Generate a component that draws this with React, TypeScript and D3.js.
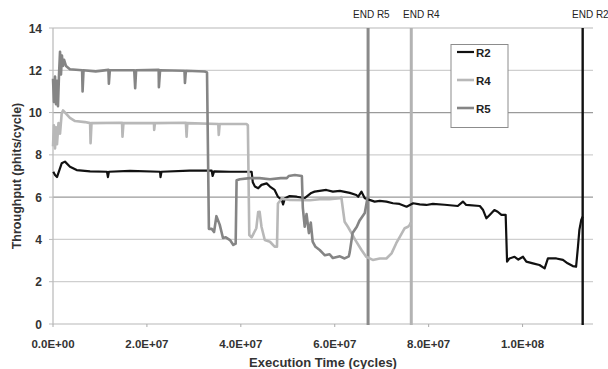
import React from "react";
import * as d3 from "d3";

// x values in millions of cycles, y in phits/cycle
const r2: [number, number][] = [
  [0.06, 7.2], [0.43, 7.05], [0.85, 6.95], [1.85, 7.6], [2.55, 7.68], [3.62, 7.44], [5.04, 7.28],
  [7.9, 7.22], [11.5, 7.2], [11.7, 6.95], [11.9, 7.2], [16.4, 7.24], [22.8, 7.2], [22.9, 6.95],
  [23.1, 7.2], [29.1, 7.25], [33.8, 7.25], [34.0, 7.0], [34.3, 7.22], [37.7, 7.2], [42.3, 7.2],
  [42.55, 6.7], [43.0, 6.5], [43.7, 6.42], [44.4, 6.58], [45.5, 6.65], [46.2, 6.5], [47.2, 6.34],
  [47.9, 6.02], [48.7, 5.87], [49.0, 5.65], [49.4, 5.95], [50.4, 6.05], [51.9, 6.02], [53.6, 5.95],
  [55.0, 6.2], [55.7, 6.26], [58.2, 6.34], [59.6, 6.26], [61.1, 6.3], [63.2, 6.2], [64.6, 6.1],
  [65.0, 6.02], [65.7, 6.26], [66.4, 5.95], [67.4, 5.87], [68.5, 5.79], [69.6, 5.82], [71.0, 5.79],
  [72.4, 5.71], [73.8, 5.68], [75.3, 5.55], [76.7, 5.71], [78.1, 5.66], [79.5, 5.63], [80.9, 5.68],
  [83.4, 5.64], [86.2, 5.58], [87.3, 5.79], [88.0, 5.63], [90.9, 5.58], [91.6, 5.39], [92.3, 5.0],
  [93.0, 5.16], [94.0, 5.39], [94.7, 5.31], [95.5, 5.16], [96.4, 5.16], [96.7, 2.95], [97.2, 3.1],
  [98.3, 3.18], [99.1, 3.05], [100.1, 3.18], [100.8, 2.95], [102.2, 2.87], [103.6, 2.79],
  [104.7, 2.63], [105.4, 3.1], [107.2, 3.1], [108.6, 3.03], [109.6, 2.87], [110.7, 2.74],
  [111.4, 2.71], [111.8, 3.66], [112.1, 4.45], [112.5, 4.92], [112.8, 5.08],
];

const r4: [number, number][] = [
  [0.0, 8.4], [0.2, 9.4], [0.43, 8.3], [0.64, 9.3], [0.85, 8.5], [1.17, 9.5], [1.5, 9.0],
  [1.85, 9.96], [2.13, 10.1], [2.77, 9.95], [3.6, 9.75], [4.7, 9.6], [6.8, 9.55], [7.9, 9.5],
  [8.0, 8.55], [8.2, 9.5], [14.7, 9.52], [14.8, 8.86], [15.0, 9.5], [21.5, 9.5], [21.55, 9.18],
  [21.7, 9.5], [28.3, 9.52], [28.45, 8.86], [28.6, 9.5], [35.2, 9.46], [35.3, 8.94], [35.5, 9.46],
  [41.2, 9.46], [41.5, 9.4], [41.8, 4.21], [42.3, 4.1], [43.3, 4.53], [43.7, 5.3], [44.0, 5.31],
  [44.4, 4.6], [45.1, 3.97], [46.2, 3.89], [47.2, 3.66], [47.7, 3.66], [47.9, 5.7], [48.7, 5.92],
  [50.4, 5.87], [54.7, 5.85], [56.8, 5.9], [58.9, 5.9], [61.1, 5.95], [61.4, 6.0], [61.7, 5.5],
  [62.1, 4.84], [62.8, 4.6], [63.6, 4.29], [64.3, 4.0], [65.7, 3.5], [66.7, 3.18], [68.1, 3.03],
  [69.6, 3.1], [71.0, 3.1], [72.1, 3.34], [73.1, 3.82], [73.8, 4.1], [74.9, 4.53], [75.6, 4.6],
  [76.0, 4.7], [76.2, 4.8],
];

const r5: [number, number][] = [
  [0.0, 11.6], [0.2, 10.5], [0.43, 11.7], [0.64, 10.4], [0.85, 11.5], [1.06, 10.3], [1.28, 11.8],
  [1.5, 12.88], [1.7, 11.8], [1.9, 12.7], [2.1, 12.2], [2.35, 12.5], [2.77, 12.2], [3.6, 12.05],
  [6.2, 12.0], [6.3, 11.0], [6.5, 12.0], [9.1, 11.95], [11.8, 12.02], [11.9, 11.37], [12.1, 12.0],
  [17.3, 12.0], [17.5, 11.15], [17.7, 12.0], [22.5, 12.02], [22.55, 11.2], [22.8, 12.0],
  [28.0, 11.98], [28.1, 11.4], [28.3, 11.98], [32.3, 11.94], [32.8, 11.9], [33.2, 4.5], [33.8, 4.5],
  [34.3, 4.35], [34.8, 5.1], [35.5, 4.7], [36.2, 4.07], [36.8, 4.1], [37.7, 3.97], [38.4, 3.74],
  [38.9, 3.8], [39.1, 6.8], [39.8, 6.85], [41.9, 6.9], [44.0, 6.9], [46.2, 6.85], [48.5, 6.9],
  [49.8, 6.9], [50.2, 7.0], [51.5, 7.05], [53.0, 7.0], [53.2, 5.5], [53.6, 4.6], [54.0, 5.2],
  [54.5, 4.3], [54.9, 4.8], [55.3, 3.9], [55.9, 3.65], [56.8, 3.5], [57.9, 3.25], [58.9, 3.3],
  [59.6, 3.12], [61.1, 3.2], [62.1, 3.1], [63.0, 3.2], [63.2, 3.4], [63.8, 4.3], [64.7, 4.6],
  [65.3, 4.9], [66.4, 5.25], [67.0, 6.0],
];

const seriesNames = ["R2", "R4", "R5"];
const seriesColors = ["#111111", "#b8b8b8", "#858585"];
const seriesWidths = [2.2, 2.6, 2.6];

const endLabels = ["END R5", "END R4", "END R2"];
const endTimes = [67.1, 76.3, 112.8];
const endColors = ["#8a8a8a", "#b3b3b3", "#111111"];
const endLabelX = [353, 403, 572];

const yTicks = [0, 2, 4, 6, 8, 10, 12, 14];
const xTicks = [0, 2e7, 4e7, 6e7, 8e7, 1e8];

const fmtX = (v: number) => {
  const [m, e] = v.toExponential(1).split("e");
  const sign = e[0] === "-" ? "-" : "+";
  const digits = e.replace(/[+-]/, "").padStart(2, "0");
  return `${m}E${sign}${digits}`;
};

export default function App() {
  const left = 53, right = 593, top = 28, bottom = 324;
  const x = d3.scaleLinear().domain([0, 1.15e8]).range([left, right]);
  const y = d3.scaleLinear().domain([0, 14]).range([bottom, top]);
  const line = d3.line<[number, number]>()
    .x(d => x(d[0] * 1e6))
    .y(d => y(d[1]));
  const data = [r2, r4, r5];
  const font = "'Liberation Sans', Arial, sans-serif";

  return (
    <svg width={608} height={369} style={{ position: "absolute", left: 0, top: 0, background: "#fff" }}
      fontFamily={font}>
      {yTicks.map(t => (
        <g key={t}>
          <line x1={left} x2={right} y1={y(t)} y2={y(t)}
            stroke={t === 6 || t === 10 ? "#9a9a9a" : "#cfcfcf"} strokeWidth={1.3} />
          <line x1={left - 4} x2={left} y1={y(t)} y2={y(t)} stroke="#bbb" />
          <text x={42} y={y(t) + 4.5} textAnchor="end" fontSize={12} fontWeight="bold" fill="#333">{t}</text>
        </g>
      ))}
      <line x1={left} x2={left} y1={top} y2={bottom} stroke="#bdbdbd" strokeWidth={1.3} />
      {xTicks.map(t => (
        <g key={t}>
          <line x1={x(t)} x2={x(t)} y1={bottom} y2={bottom + 3} stroke="#aaa" />
          <text x={x(t)} y={348} textAnchor="middle" fontSize={11.5} fontWeight="bold" fill="#333">{fmtX(t)}</text>
        </g>
      ))}
      {endTimes.map((t, i) => (
        <g key={endLabels[i]}>
          <line x1={x(t * 1e6)} x2={x(t * 1e6)} y1={top} y2={bottom + 1}
            stroke={endColors[i]} strokeWidth={i === 2 ? 2.4 : 3} />
          <text x={endLabelX[i]} y={18} fontSize={10} fill="#222">{endLabels[i]}</text>
        </g>
      ))}
      {data.map((d, i) => (
        <path key={seriesNames[i]} d={line(d) || ""} fill="none" stroke={seriesColors[i]}
          strokeWidth={seriesWidths[i]} strokeLinejoin="round" />
      ))}
      <g>
        <rect x={451} y={44.5} width={57} height={83} fill="#fff" stroke="#8c8c8c" strokeWidth={1} />
        {seriesNames.map((n, i) => (
          <g key={n}>
            <line x1={457} x2={474} y1={52 + i * 28} y2={52 + i * 28}
              stroke={seriesColors[i]} strokeWidth={seriesWidths[i]} />
            <text x={476} y={56.5 + i * 28} fontSize={11.5} fontWeight="bold" fill="#222">{n}</text>
          </g>
        ))}
      </g>
      <text x={323} y={367} textAnchor="middle" fontSize={13} fontWeight="bold" fill="#333">
        Execution Time (cycles)
      </text>
      <text transform={`translate(21,176) rotate(-90)`} textAnchor="middle" fontSize={12.5}
        fontWeight="bold" fill="#333">Throughput (phits/cycle)</text>
    </svg>
  );
}
